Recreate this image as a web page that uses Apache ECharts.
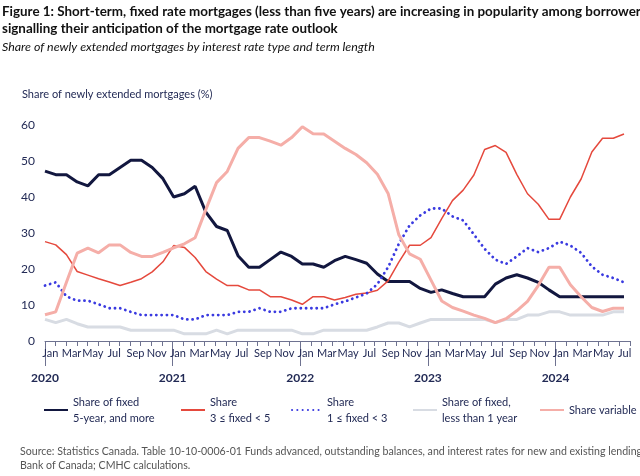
<!DOCTYPE html>
<html><head><meta charset="utf-8">
<script src="https://cdn.jsdelivr.net/npm/echarts@6/dist/echarts.min.js"></script>
<style>html,body{margin:0;padding:0;background:#fff}#c{width:640px;height:476px}</style>
</head><body><div id="c"></div>
<script>
const monthNames = ['Jan','Feb','Mar','Apr','May','Jun','Jul','Aug','Sep','Oct','Nov','Dec'];
const years = ['2020','2021','2022','2023','2024'];
const lastMonthOf2024 = 7;
const categories = [];
years.forEach((y, yi) => {
  const n = yi === years.length - 1 ? lastMonthOf2024 : 12;
  for (let m = 0; m < n; m++) categories.push(monthNames[m] + ' ' + y);
});

const fixed5plus = [47.2,46.2,46.2,44.2,43.1,46.2,46.2,48.2,50.2,50.2,48.2,45.1,40.0,40.9,43.0,35.8,31.8,30.7,23.7,20.5,20.5,22.6,24.7,23.5,21.4,21.4,20.5,22.3,23.5,22.6,21.6,18.6,16.5,16.5,16.5,14.6,13.5,14.2,13.2,12.3,12.3,12.3,15.8,17.5,18.4,17.5,16.3,14.2,12.3,12.3,12.3,12.3,12.3,12.3,12.3];
const fixed3to5 = [27.6,26.7,24.0,19.3,18.3,17.3,16.4,15.4,16.3,17.3,19.2,22.0,26.5,26.0,23.2,19.3,17.2,15.4,15.4,14.2,14.2,12.3,12.3,11.4,10.2,12.3,12.3,11.4,12.1,13.0,13.3,14.1,16.7,21.9,26.6,26.6,28.7,34.0,39.0,41.9,46.1,53.2,54.3,52.4,46.3,40.9,38.0,33.8,33.8,40.0,45.0,52.5,56.3,56.3,57.5];
const fixed1to3 = [15.4,16.3,12.4,11.2,11.2,10.2,9.1,9.1,8.1,7.2,7.2,7.2,7.2,6.0,6.0,7.2,7.2,7.2,8.1,8.1,9.1,8.1,8.1,9.1,9.1,9.1,9.1,10.2,11.0,12.1,13.2,15.8,20.5,27.0,32.1,34.9,36.8,36.8,34.6,33.5,29.6,25.6,22.6,21.4,23.5,25.8,24.7,25.8,27.6,26.5,24.5,20.7,18.4,17.5,16.3];
const fixedUnder1 = [6.0,5.1,6.0,4.8,3.9,3.9,3.9,3.9,3.0,3.0,3.0,3.0,3.0,2.0,2.0,2.0,3.0,2.0,3.0,3.0,3.0,3.0,3.0,3.0,2.0,2.0,3.0,3.0,3.0,3.0,3.0,3.9,5.0,5.0,3.9,5.0,6.0,6.0,6.0,6.0,6.0,6.0,5.1,6.0,6.0,7.2,7.2,8.1,8.1,7.2,7.2,7.2,7.2,8.1,8.1];
const variable = [7.3,8.1,16.3,24.4,25.8,24.5,26.7,26.7,24.6,23.5,23.5,24.6,25.9,27.0,28.7,36.5,44.0,47.1,53.5,56.5,56.5,55.5,54.4,56.5,59.5,57.6,57.5,55.5,53.5,51.8,49.5,46.3,41.0,29.5,24.2,22.7,16.9,11.1,9.3,8.3,7.2,6.3,5.1,6.2,8.4,11.0,15.4,20.5,20.5,15.6,12.3,9.3,8.2,9.1,9.1];

const yTicks = {min: 0, max: 60, interval: 10};
const seriesNames = ['Share of fixed\n5-year, and more', 'Share\n3 \u2264 fixed < 5', 'Share\n1 \u2264 fixed < 3', 'Share of fixed,\nless than 1 year', 'Share variable'];

const FONT = 'Lato';
const TXT = '#222a55';
const AXIS = '#6e7290';

const chart = echarts.init(document.getElementById('c'), null, {renderer: 'canvas'});

const yearCats = categories.concat(['end']);

function legendAt(i, left, w) {
  const twoLine = seriesNames[i].indexOf('\n') >= 0;
  return {
    data: [seriesNames[i]],
    left: left, top: twoLine ? 386 : 402,
    padding: 0,
    itemWidth: w, itemHeight: 14, itemGap: 0,
    selectedMode: false,
    itemStyle: {opacity: 0},
    textStyle: {fontFamily: FONT, fontSize: 11, color: TXT, lineHeight: 16, padding: twoLine ? [16, 0, 0, 0] : 0}
  };
}

const option = {
  animation: false,
  backgroundColor: '#fff',
  textStyle: {fontFamily: FONT},
  title: [
    {text: 'Figure 1: Short-term, fixed rate mortgages (less than five years) are increasing in popularity among borrowers\nsignalling their anticipation of the mortgage rate outlook',
     left: 2, top: 3, padding: 0, itemGap: 4,
     textStyle: {fontFamily: FONT, fontWeight: 'bold', fontSize: 13.4, lineHeight: 17, color: '#111'},
     subtext: 'Share of newly extended mortgages by interest rate type and term length',
     subtextStyle: {fontFamily: FONT, fontStyle: 'italic', fontSize: 12.4, color: '#111'}},
    {text: 'Share of newly extended mortgages (%)', left: 22, top: 89, padding: 0,
     textStyle: {fontFamily: FONT, fontWeight: 'normal', fontSize: 11, color: TXT}},
    {text: 'Source: Statistics Canada. Table 10-10-0006-01 Funds advanced, outstanding balances, and interest rates for new and existing lending,\nBank of Canada; CMHC calculations.',
     left: 20, top: 445, padding: 0,
     textStyle: {fontFamily: FONT, fontWeight: 'normal', fontSize: 10.6, lineHeight: 14, color: '#555'}}
  ],
  legend: [legendAt(0, 43, 24), legendAt(1, 180, 24), legendAt(2, 291, 30), legendAt(3, 412, 24), legendAt(4, 539, 24)],
  grid: [
    {left: 45, right: 10, top: 125, bottom: 135, containLabel: false},
    {left: 45, right: 16, top: 125, bottom: 135, containLabel: false}
  ],
  xAxis: [
    {type: 'category', gridIndex: 0, data: categories, boundaryGap: true, position: 'bottom',
     axisLine: {show: true, onZero: false, lineStyle: {color: AXIS, width: 1}},
     axisTick: {show: true, interval: 0, length: 5, lineStyle: {color: AXIS, width: 1}},
     axisLabel: {show: true, interval: 1, margin: 7, fontFamily: FONT, fontSize: 11, color: TXT,
                 formatter: v => v.split(' ')[0]},
     splitLine: {show: false}},
    {type: 'category', gridIndex: 0, data: yearCats, boundaryGap: false, position: 'bottom',
     axisLine: {show: false, onZero: false},
     axisTick: {show: true, length: 25, interval: (i) => i % 12 === 0 && i < categories.length, lineStyle: {color: AXIS, width: 1}},
     axisLabel: {show: true, interval: (i) => i % 12 === 0 && i < categories.length, margin: 31, fontFamily: FONT, fontWeight: 'bold', fontSize: 12, color: TXT,
                 formatter: v => v.split(' ')[1] || ''},
     splitLine: {show: false}},
    {type: 'category', gridIndex: 1, data: categories, boundaryGap: false, show: false}
  ],
  yAxis: [
    {type: 'value', gridIndex: 0, min: yTicks.min, max: yTicks.max, interval: yTicks.interval,
     axisLine: {show: false}, axisTick: {show: false}, axisLabel: {show: false}, splitLine: {show: false}},
    {type: 'value', gridIndex: 1, min: yTicks.min, max: yTicks.max, interval: yTicks.interval,
     axisLine: {show: false}, axisTick: {show: false}, splitLine: {show: false},
     axisLabel: {margin: 10, fontFamily: FONT, fontSize: 12, color: TXT}}
  ],
  series: [
    {name: seriesNames[0], type: 'line', xAxisIndex: 2, yAxisIndex: 1, data: fixed5plus, symbol: 'none',
     lineStyle: {color: '#12173f', width: 3}, itemStyle: {color: '#12173f'}},
    {name: seriesNames[1], type: 'line', xAxisIndex: 2, yAxisIndex: 1, data: fixed3to5, symbol: 'none',
     lineStyle: {color: '#e5493d', width: 1.5}, itemStyle: {color: '#e5493d'}},
    {name: seriesNames[2], type: 'line', xAxisIndex: 2, yAxisIndex: 1, data: fixed1to3, symbol: 'none',
     lineStyle: {color: '#3a3ae0', width: 2.8, type: [0.1, 5.2], cap: 'round'}, itemStyle: {color: '#3a3ae0'}},
    {name: seriesNames[3], type: 'line', xAxisIndex: 2, yAxisIndex: 1, data: fixedUnder1, symbol: 'none',
     lineStyle: {color: '#d8dce3', width: 3}, itemStyle: {color: '#d8dce3'}},
    {name: seriesNames[4], type: 'line', xAxisIndex: 2, yAxisIndex: 1, data: variable, symbol: 'none',
     lineStyle: {color: '#f5aea8', width: 3}, itemStyle: {color: '#f5aea8'}}
  ]
};
chart.setOption(option);
</script>
</body></html>
